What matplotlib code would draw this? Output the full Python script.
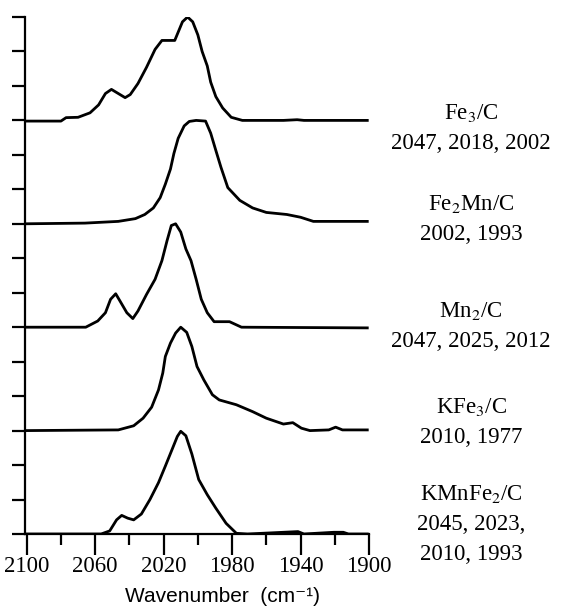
import matplotlib.pyplot as plt
from matplotlib.ticker import MultipleLocator

plt.rcParams['font.family'] = ['Liberation Serif', 'DejaVu Serif']
plt.rcParams['mathtext.fontset'] = 'stix'

# wavenumber (cm-1) and absorbance above each spectrum's own baseline
fe3_w = [2101, 2080, 2077, 2070, 2063, 2058, 2054, 2050.5, 2046.5, 2042.5, 2039.5,
         2035, 2030, 2025, 2021, 2013.5, 2011, 2009, 2006, 2003, 2000, 1997.5,
         1994.5, 1992.5, 1989.5, 1985.5, 1980.5, 1974, 1950, 1942, 1938, 1901]
fe3_a = [-0.02, -0.02, 0.08, 0.09, 0.22, 0.45, 0.78, 0.90, 0.78, 0.66, 0.75,
         1.07, 1.54, 2.06, 2.32, 2.32, 2.62, 2.86, 3.0, 2.86, 2.48, 2.0,
         1.58, 1.11, 0.69, 0.36, 0.09, 0.0, 0.0, 0.02, 0.0, 0.0]

fe2mn_w = [2101, 2066, 2046.5, 2036.5, 2031, 2026, 2022, 2019, 2016, 2014, 2011.5,
           2008, 2005, 2001, 1995.5, 1992.5, 1989.5, 1986.5, 1982.5, 1975.5, 1968,
           1960, 1948, 1940, 1932.5, 1901]
fe2mn_a = [0.0, 0.02, 0.07, 0.15, 0.27, 0.46, 0.76, 1.15, 1.59, 2.04, 2.48,
           2.84, 2.97, 3.0, 2.98, 2.63, 2.13, 1.64, 1.05, 0.68, 0.46,
           0.33, 0.27, 0.19, 0.07, 0.07]

mn2_w = [2101, 2065.5, 2058.5, 2054, 2051, 2048, 2045.5, 2041.5, 2038, 2035, 2030,
         2025, 2021, 2018, 2015.5, 2013, 2010, 2007, 2004, 2001, 1998, 1994.5,
         1990.5, 1981.5, 1974.5, 1901]
mn2_a = [0.0, 0.0, 0.18, 0.42, 0.81, 0.97, 0.76, 0.42, 0.25, 0.47, 0.95,
         1.39, 1.93, 2.51, 2.95, 3.0, 2.76, 2.27, 1.93, 1.39, 0.81, 0.42,
         0.16, 0.16, 0.0, -0.02]

kfe3_w = [2101, 2046.5, 2037.5, 2032, 2027, 2023, 2020.5, 2019, 2016, 2013, 2010,
          2006.5, 2003.5, 2000.5, 1996.5, 1991.5, 1987.5, 1977.5, 1968, 1960, 1950,
          1944.5, 1939.5, 1934.5, 1923.5, 1919.5, 1915.5, 1901]
kfe3_a = [0.0, 0.02, 0.14, 0.36, 0.68, 1.18, 1.67, 2.15, 2.54, 2.83, 3.0,
          2.85, 2.44, 1.86, 1.47, 1.04, 0.89, 0.75, 0.55, 0.36, 0.19,
          0.23, 0.07, 0.0, 0.02, 0.10, 0.02, 0.02]

kmnfe2_w = [2101, 2056.5, 2051.5, 2047.5, 2044.5, 2041, 2037.5, 2033, 2028, 2023,
            2019, 2015, 2012, 2010, 2007, 2003.5, 1999.5, 1994.5, 1989.5, 1983.5,
            1977.5, 1971, 1941.5, 1938, 1920.5, 1915, 1912, 1901]
kmnfe2_a = [0.0, 0.0, 0.09, 0.41, 0.54, 0.46, 0.41, 0.58, 1.0, 1.49,
            1.97, 2.46, 2.83, 2.98, 2.85, 2.32, 1.58, 1.14, 0.75, 0.31,
            0.02, 0.0, 0.07, 0.0, 0.05, 0.05, 0.0, 0.0]

spectra = [(fe3_w, fe3_a), (fe2mn_w, fe2mn_a), (mn2_w, mn2_a),
           (kfe3_w, kfe3_a), (kmnfe2_w, kmnfe2_a)]
offsets = [12, 9, 6, 3, 0]

samples = ['Fe$_3$/C', 'Fe$_2$Mn/C', 'Mn$_2$/C', 'KFe$_3$/C', 'KMnFe$_2$/C']
peaks = [['2047, 2018, 2002'], ['2002, 1993'], ['2047, 2025, 2012'],
         ['2010, 1977'], ['2045, 2023,', '2010, 1993']]
xticks = [2100, 2060, 2020, 1980, 1940, 1900]

W, H = 561, 608
fig = plt.figure(figsize=(W / 100, H / 100), dpi=100)
ax = fig.add_axes([25 / W, 74 / H, 344 / W, 517 / H])

for (w, a), off in zip(spectra, offsets):
    ax.plot(w, [v + off for v in a], color='black', lw=2.0, solid_joinstyle='round')

ax.set_xlim(2101, 1900)
ax.set_ylim(0, 15)
ax.set_xticks(xticks)
ax.set_xticklabels([str(t) for t in xticks])
ax.xaxis.set_minor_locator(MultipleLocator(20))
ax.yaxis.set_major_locator(MultipleLocator(1))

for s in ['top', 'right']:
    ax.spines[s].set_visible(False)
for s in ['left', 'bottom']:
    ax.spines[s].set_linewidth(1.6)

ax.tick_params(axis='x', which='major', direction='out', length=15, width=1.6,
               pad=1, labelsize=16.5)
ax.tick_params(axis='x', which='minor', direction='out', length=8, width=1.6)
ax.tick_params(axis='y', which='major', direction='out', length=9.5, width=1.6,
               labelleft=False)

# sample names and band positions at the right, baselines in pixels
name_base = [119, 210, 317, 413, 500]
for name, lines, yb in zip(samples, peaks, name_base):
    fig.text(471 / W, 1 - yb / H, name, ha='center', va='baseline', fontsize=16.5)
    for i, line in enumerate(lines):
        fig.text(471 / W, 1 - (yb + 30 * (i + 1)) / H, line, ha='center',
                 va='baseline', fontsize=16.5)

fig.text(222 / W, 1 - 597 / H, 'Wavenumber  (cm\u207b\u00b9)', ha='center', va='center',
         fontsize=15, family=['Liberation Sans', 'DejaVu Sans'])

fig.savefig('out.png', dpi=100)
